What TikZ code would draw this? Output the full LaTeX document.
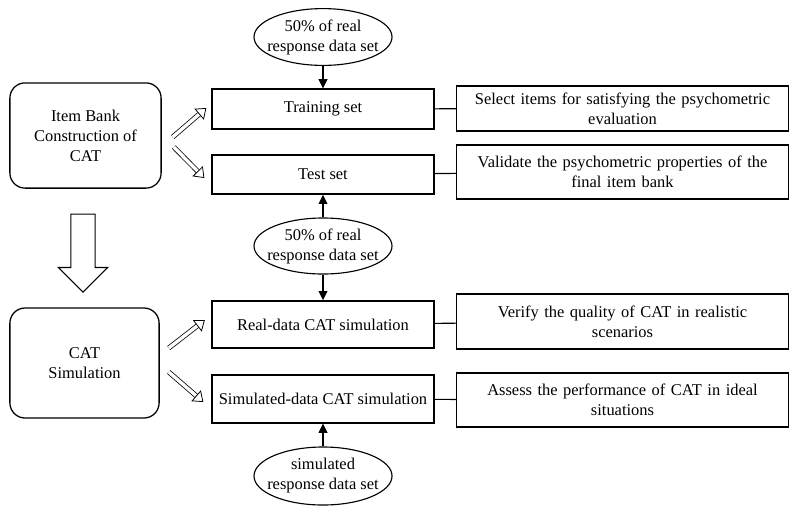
\documentclass[tikz,border=0pt]{standalone}
\usepackage{fontspec}
\setmainfont{Liberation Serif}
\usepackage{tikz}
\usetikzlibrary{arrows.meta,positioning,shapes.geometric,shapes.arrows,calc}

\begin{document}
\begin{tikzpicture}[
  x=0.025cm, y=-0.025cm,
  font=\fontsize{11.7}{14.2}\selectfont,
  stage/.style={rounded corners=0.38cm, draw, line width=0.9pt, align=center},
  setbox/.style={draw, line width=0.9pt, align=center, minimum width=5.55cm},
  aimbox/.style={draw, line width=0.9pt, align=center, text width=8.0cm, minimum width=8.3cm},
  datasrc/.style={ellipse, draw, line width=0.8pt, align=center, inner xsep=-6pt, inner ysep=0pt, minimum width=3.45cm, minimum height=1.42cm},
  arr/.style={-{Triangle[length=2.3mm, width=2.2mm]}, line width=0.8pt},
  link/.style={line width=0.8pt},
  hollow/.style={double, double distance=2.4pt, line width=0.55pt, -{Triangle[open, length=2.4mm, width=3.6mm]}},
  bigarrow/.style={single arrow, draw, line width=0.8pt, rotate=-90, inner xsep=0pt, inner ysep=0.29cm,
    minimum height=1.95cm, single arrow head extend=0.31cm},
]
\useasboundingbox (0,0) rectangle (800,515);

% left stages
\node[stage, minimum width=3.78cm, minimum height=2.63cm] (ib) at (85.5,135.5) {Item Bank\\Construction of\\CAT};
\node[stage, minimum width=3.73cm, minimum height=2.75cm] (cs) at (84.5,363) {CAT\\Simulation};
\node[bigarrow] (down) at (83,247) {};

% middle column
\node[setbox, minimum height=1.0cm] (train) at (323,109) {Training set};
\node[setbox, minimum height=0.98cm] (test) at (323,174.5) {Test set};
\node[setbox, minimum height=1.18cm] (real) at (323,324.5) {Real-data CAT simulation};
\node[setbox, minimum height=1.2cm] (simu) at (323,399) {Simulated-data CAT simulation};

\node[datasrc] (half1) at (323,37) {50\% of real\\response data set};
\node[datasrc, minimum height=1.4cm] (half2) at (323,246) {50\% of real\\response data set};
\node[datasrc, minimum height=1.45cm] (simdata) at (323,476) {simulated\\response data set};

% right column
\node[aimbox, minimum height=1.12cm] (aim1) at (622.5,108.5) {Select items for satisfying the psychometric\\evaluation};
\node[aimbox, minimum height=1.35cm] (aim2) at (622.5,172) {Validate the psychometric properties of the\\final item bank};
\node[aimbox, minimum height=1.38cm] (aim3) at (622.5,321.5) {Verify the quality of CAT in realistic\\scenarios};
\node[aimbox, minimum height=1.35cm] (aim4) at (622.5,400) {Assess the performance of CAT in ideal\\situations};

% data arrows
\draw[arr] (half1) -- (train);
\draw[arr] (half2) -- (test);
\draw[arr] (half2) -- (real);
\draw[arr] (simdata) -- (simu);

% links to aims
\draw[link] (train) -- (aim1);
\draw[link] (test) -- (aim2);
\draw[link] (real) -- (aim3);
\draw[link] (simu) -- (aim4);

% split arrows
\draw[hollow] ($(ib.east)+(11,1.5)$) -- ($(train.west)+(-5,-1)$);
\draw[hollow] ($(ib.east)+(12,11.5)$) -- ($(test.west)+(-7,3.5)$);
\draw[hollow] ($(cs.east)+(9,-15)$) -- ($(real.west)+(-6.5,-4.5)$);
\draw[hollow] ($(cs.east)+(9,9)$) -- ($(simu.west)+(-8,3)$);

\end{tikzpicture}
\end{document}
